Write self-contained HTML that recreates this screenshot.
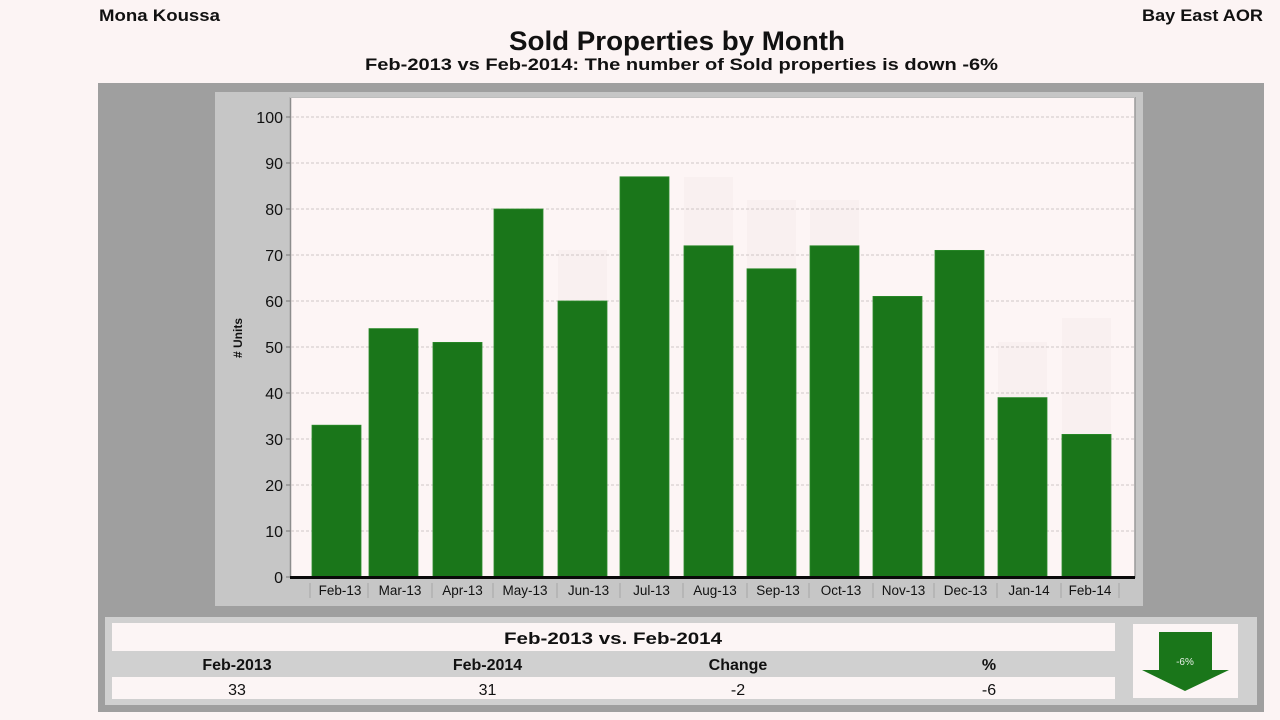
<!DOCTYPE html>
<html>
<head>
<meta charset="utf-8">
<style>
  html,body{margin:0;padding:0;background:#fcf4f4;}
  svg{display:block;}
  text{font-family:"Liberation Sans","DejaVu Sans",sans-serif;fill:#111;}
</style>
</head>
<body>
<svg width="1280" height="720" viewBox="0 0 1280 720" xmlns="http://www.w3.org/2000/svg">
  <rect x="0" y="0" width="1280" height="720" fill="#fcf4f4"/>

  <!-- header texts -->
  <text x="99" y="21" font-size="17" font-weight="bold" textLength="121" lengthAdjust="spacingAndGlyphs">Mona Koussa</text>
  <text x="1142" y="21" font-size="17" font-weight="bold" textLength="121" lengthAdjust="spacingAndGlyphs">Bay East AOR</text>
  <text x="509" y="50" font-size="27" font-weight="bold" textLength="336" lengthAdjust="spacingAndGlyphs">Sold Properties by Month</text>
  <text x="365" y="70" font-size="17" font-weight="bold" textLength="633" lengthAdjust="spacingAndGlyphs">Feb-2013 vs Feb-2014: The number of Sold  properties is down -6%</text>

  <!-- outer dark gray panel -->
  <rect x="98" y="83" width="1166" height="629" fill="#9f9f9f"/>
  <!-- chart box -->
  <rect x="215" y="92" width="928" height="514" fill="#c6c6c6"/>
  <!-- plot area -->
  <rect x="290" y="97" width="845" height="481" fill="#fdf5f5"/>
  <line x1="290.5" y1="97" x2="290.5" y2="578" stroke="#8c8c8c" stroke-width="1.5"/>
  <line x1="1135" y1="97" x2="1135" y2="578" stroke="#9a9a9a" stroke-width="1.5"/>
  <line x1="290" y1="97.5" x2="1135" y2="97.5" stroke="#bdbdbd" stroke-width="1"/>

  <!-- ghost bars (faint) -->
  <g fill="#f9f0f0">
    <rect x="558" y="250" width="49" height="60"/>
    <rect x="684" y="177" width="49" height="80"/>
    <rect x="747" y="200" width="49" height="80"/>
    <rect x="810" y="200" width="49" height="60"/>
    <rect x="998" y="342" width="49" height="60"/>
    <rect x="1062" y="318" width="49" height="120"/>
  </g>

  <!-- gridlines -->
  <g stroke="#cfc6c6" stroke-width="1" stroke-dasharray="3,2">
    <line x1="291" y1="117" x2="1134" y2="117"/>
    <line x1="291" y1="163" x2="1134" y2="163"/>
    <line x1="291" y1="209" x2="1134" y2="209"/>
    <line x1="291" y1="255" x2="1134" y2="255"/>
    <line x1="291" y1="301" x2="1134" y2="301"/>
    <line x1="291" y1="347" x2="1134" y2="347"/>
    <line x1="291" y1="393" x2="1134" y2="393"/>
    <line x1="291" y1="439" x2="1134" y2="439"/>
    <line x1="291" y1="485" x2="1134" y2="485"/>
    <line x1="291" y1="531" x2="1134" y2="531"/>
  </g>

  <!-- y ticks -->
  <g stroke="#777" stroke-width="1">
    <line x1="286" y1="117" x2="290" y2="117"/>
    <line x1="286" y1="163" x2="290" y2="163"/>
    <line x1="286" y1="209" x2="290" y2="209"/>
    <line x1="286" y1="255" x2="290" y2="255"/>
    <line x1="286" y1="301" x2="290" y2="301"/>
    <line x1="286" y1="347" x2="290" y2="347"/>
    <line x1="286" y1="393" x2="290" y2="393"/>
    <line x1="286" y1="439" x2="290" y2="439"/>
    <line x1="286" y1="485" x2="290" y2="485"/>
    <line x1="286" y1="531" x2="290" y2="531"/>
    <line x1="286" y1="577" x2="290" y2="577"/>
  </g>
  <g font-size="16" text-anchor="end" fill="#222">
    <text x="283" y="123">100</text>
    <text x="283" y="169">90</text>
    <text x="283" y="215">80</text>
    <text x="283" y="261">70</text>
    <text x="283" y="307">60</text>
    <text x="283" y="353">50</text>
    <text x="283" y="399">40</text>
    <text x="283" y="445">30</text>
    <text x="283" y="491">20</text>
    <text x="283" y="537">10</text>
    <text x="283" y="583">0</text>
  </g>
  <text transform="translate(242,338) rotate(-90)" font-size="12" font-weight="bold" text-anchor="middle">#  Units</text>

  <!-- bars -->
  <g fill="#1a761a" stroke="#2a8a2a" stroke-width="0.8">
    <rect x="312" y="425.2" width="49" height="151.8"/>
    <rect x="369" y="328.6" width="49" height="248.4"/>
    <rect x="433" y="342.4" width="49" height="234.6"/>
    <rect x="494" y="209" width="49" height="368"/>
    <rect x="558" y="301" width="49" height="276"/>
    <rect x="620" y="176.8" width="49" height="400.2"/>
    <rect x="684" y="245.8" width="49" height="331.2"/>
    <rect x="747" y="268.8" width="49" height="308.2"/>
    <rect x="810" y="245.8" width="49" height="331.2"/>
    <rect x="873" y="296.4" width="49" height="280.6"/>
    <rect x="935" y="250.4" width="49" height="326.6"/>
    <rect x="998" y="397.6" width="49" height="179.4"/>
    <rect x="1062" y="434.4" width="49" height="142.6"/>
  </g>

  <!-- x axis -->
  <rect x="290" y="576" width="845" height="3" fill="#0a0a0a"/>
  <g stroke="#a6a6a6" stroke-width="1">
    <line x1="310" y1="583" x2="310" y2="598"/>
    <line x1="368" y1="583" x2="368" y2="598"/>
    <line x1="432" y1="583" x2="432" y2="598"/>
    <line x1="493" y1="583" x2="493" y2="598"/>
    <line x1="557" y1="583" x2="557" y2="598"/>
    <line x1="620" y1="583" x2="620" y2="598"/>
    <line x1="683" y1="583" x2="683" y2="598"/>
    <line x1="747" y1="583" x2="747" y2="598"/>
    <line x1="809" y1="583" x2="809" y2="598"/>
    <line x1="873" y1="583" x2="873" y2="598"/>
    <line x1="934" y1="583" x2="934" y2="598"/>
    <line x1="997" y1="583" x2="997" y2="598"/>
    <line x1="1061" y1="583" x2="1061" y2="598"/>
    <line x1="1119" y1="583" x2="1119" y2="598"/>
  </g>
  <g font-size="13.5" text-anchor="middle" fill="#222">
    <text x="340" y="595">Feb-13</text>
    <text x="400" y="595">Mar-13</text>
    <text x="462.5" y="595">Apr-13</text>
    <text x="525" y="595">May-13</text>
    <text x="588.5" y="595">Jun-13</text>
    <text x="651.5" y="595">Jul-13</text>
    <text x="715" y="595">Aug-13</text>
    <text x="778" y="595">Sep-13</text>
    <text x="841" y="595">Oct-13</text>
    <text x="903.5" y="595">Nov-13</text>
    <text x="965.5" y="595">Dec-13</text>
    <text x="1029" y="595">Jan-14</text>
    <text x="1090" y="595">Feb-14</text>
  </g>

  <!-- bottom panel -->
  <rect x="105" y="617" width="1152" height="88" fill="#d0d0d0"/>
  <rect x="112" y="623" width="1003" height="28" fill="#fcf5f5"/>
  <rect x="112" y="677" width="1003" height="22" fill="#fcf5f5"/>
  <text x="613" y="644" font-size="17" font-weight="bold" text-anchor="middle" textLength="218" lengthAdjust="spacingAndGlyphs">Feb-2013 vs. Feb-2014</text>
  <g font-size="16" font-weight="bold" text-anchor="middle">
    <text x="237" y="670">Feb-2013</text>
    <text x="487.5" y="670">Feb-2014</text>
    <text x="738" y="670">Change</text>
    <text x="989" y="670">%</text>
  </g>
  <g font-size="16" text-anchor="middle">
    <text x="237" y="695">33</text>
    <text x="487.5" y="695">31</text>
    <text x="738" y="695">-2</text>
    <text x="989" y="695">-6</text>
  </g>

  <!-- arrow box -->
  <rect x="1133" y="624" width="105" height="74" fill="#fcf5f5"/>
  <polygon points="1159,632 1212,632 1212,670 1229,670 1185,691 1142,670 1159,670" fill="#1a761a"/>
  <text x="1185" y="665" font-size="10" text-anchor="middle" style="fill:#e8f0e8">-6%</text>
</svg>
</body>
</html>
